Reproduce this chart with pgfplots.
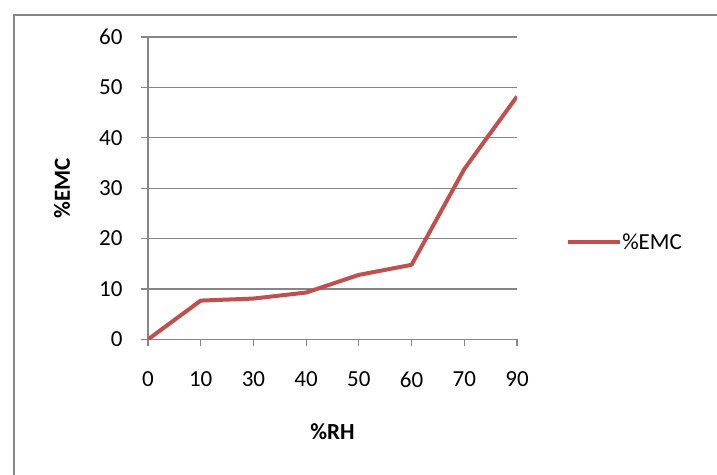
\documentclass[border=0pt]{standalone}
\usepackage{pgfplots}
\pgfplotsset{compat=1.18}
\usepackage{fontspec}
\setmainfont{Carlito}

\definecolor{exred}{RGB}{192,80,77}
\definecolor{exgray}{RGB}{134,134,134}

\begin{document}
\begin{tikzpicture}
  \path[use as bounding box] (0bp,0bp) rectangle (717bp,475bp);
  \begin{axis}[
    at={(148bp,135.6bp)}, anchor=south west,
    scale only axis,
    width=369bp, height=302.4bp,
    xmin=0, xmax=7, ymin=0, ymax=60,
    xtick={0,...,7},
    xticklabels={0,10,30,40,50,60,70,90},
    ytick={0,10,...,60},
    axis x line*=bottom, axis y line*=left,
    axis line style={exgray, line width=1.2bp},
    tick style={exgray, line width=1.2bp},
    tick align=outside,
    major tick length=7bp,
    ymajorgrids,
    grid style={exgray, line width=1.2bp},
    /pgf/number format/assume math mode=true,
    tick label style={font=\fontsize{23bp}{27bp}\selectfont, black},
    xticklabel style={yshift=-22bp},
    yticklabel style={xshift=-15bp},
    xlabel={\textbf{\%RH}},
    ylabel={\textbf{\%EMC}},
    every axis x label/.style={at={(axis description cs:0.5,-0.306)}, anchor=center,
      font=\fontsize{23bp}{27bp}\selectfont},
    every axis y label/.style={at={(axis description cs:-0.233,0.5)}, anchor=center, rotate=90,
      font=\fontsize{23bp}{27bp}\selectfont},
    legend style={draw=none, fill=none, inner sep=0pt,
      at={(axis description cs:1.133,0.322)}, anchor=west,
      font=\fontsize{23bp}{27bp}\selectfont,
      nodes={inner sep=0pt, anchor=west}},
    legend image code/.code={\draw[#1] (0bp,0bp) -- (52bp,0bp);},
    legend cell align=left,
    /tikz/every even column/.append style={column sep=6bp},
  ]
    % moisture content against relative humidity
    \addplot[exred, line width=4bp, line join=round, mark=none]
      coordinates {(0,0) (1,7.7) (2,8.1) (3,9.3) (4,12.8) (5,14.8) (6,33.8) (7,48.2)};
    \addlegendentry{\%EMC}
  \end{axis}
  % chart frame
  \draw[exgray, line width=2bp] (14bp,-5bp) rectangle (730bp,460bp);
\end{tikzpicture}
\end{document}
